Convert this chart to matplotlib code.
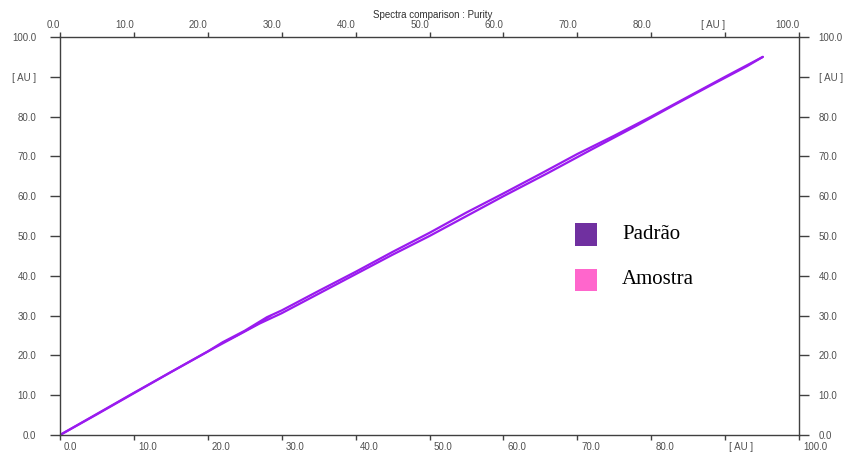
import matplotlib
matplotlib.use("Agg")
import matplotlib.pyplot as plt
import matplotlib.transforms as mtransforms
from matplotlib.patches import Rectangle

# Purity trace: reference spectrum (Padrão) vs sample spectrum (Amostra), in AU
sweep_up_x = [0, 5, 10, 15, 20, 22, 25, 28, 30, 35, 40, 45, 50, 55, 60, 65, 70, 75, 80, 85, 90, 95.1]
sweep_up_y = [0, 5.3, 10.6, 15.8, 21.0, 23.3, 26.2, 29.6, 31.3, 36.2, 41.0, 46.0, 50.8, 55.9, 60.7, 65.6, 70.6, 75.2, 80.0, 85.0, 90.0, 95.0]
sweep_down_x = [95.1, 93, 88, 83, 78, 72, 66, 60, 55, 50, 45, 40, 35, 30, 27, 25, 21, 15, 10, 5, 0]
sweep_down_y = [95.0, 92.7, 87.8, 82.8, 77.7, 71.8, 65.8, 60.0, 55.0, 50.0, 45.3, 40.4, 35.5, 30.6, 28.0, 26.0, 22.0, 15.8, 10.5, 5.2, 0]
stub_x = [21.9, 24.0, 26.5, 28.5]
stub_y = [23.1, 25.0, 27.6, 29.9]

tick_values = [0, 10, 20, 30, 40, 50, 60, 70, 80, 90, 100]
tick_labels = ["0.0", "10.0", "20.0", "30.0", "40.0", "50.0", "60.0", "70.0", "80.0", "[ AU ]", "100.0"]

legend_names = ["Padrão", "Amostra"]
legend_colors = ["#7030A0", "#FF66CC"]
trace_color = "#9A1BEF"
text_color = "#505050"

fig = plt.figure(figsize=(8.48, 4.55), dpi=100)
ax = fig.add_axes([60 / 848, 20 / 455, 739 / 848, 398 / 455])

ax.plot(sweep_up_x, sweep_up_y, color=trace_color, lw=1.6, solid_capstyle="round")
ax.plot(sweep_down_x, sweep_down_y, color=trace_color, lw=1.6, solid_capstyle="round")
ax.plot(stub_x, stub_y, color=trace_color, lw=1.2)

ax.set_xlim(0, 100)
ax.set_ylim(0, 100)

for s in ax.spines.values():
    s.set_color("#404040")
    s.set_linewidth(1.0)

ax.set_xticks(tick_values)
ax.set_xticklabels(tick_labels)
ax.set_yticks(tick_values)
ax.set_yticklabels(tick_labels)

ax.tick_params(axis="x", which="both", bottom=True, top=True, labelbottom=True, labeltop=True,
               direction="out", length=3.5, width=1, color="#404040", labelsize=7,
               labelcolor=text_color, pad=1.5)
ax.tick_params(axis="y", which="both", left=True, right=True, labelleft=True, labelright=True,
               direction="out", length=7, width=1, color="#404040", labelsize=7,
               labelcolor=text_color, pad=10)

shift_right = mtransforms.ScaledTranslation(4 / 100, 0, fig.dpi_scale_trans)
shift_left = mtransforms.ScaledTranslation(-4 / 100, 0, fig.dpi_scale_trans)
for tk in ax.xaxis.get_major_ticks():
    tk.label1.set_horizontalalignment("left")
    tk.label1.set_transform(tk.label1.get_transform() + shift_right)
    tk.label2.set_horizontalalignment("right")
for tk in ax.yaxis.get_major_ticks():
    tk.label1.set_horizontalalignment("right")
    tk.label2.set_horizontalalignment("left")
    tk.label2.set_transform(tk.label2.get_transform() + shift_left)

for tk in ax.xaxis.get_major_ticks() + ax.yaxis.get_major_ticks():
    tk.label1.set_fontfamily("Liberation Sans")
    tk.label2.set_fontfamily("Liberation Sans")

fig.text(433 / 848, 1 - 15 / 455, "Spectra comparison : Purity", ha="center", va="center",
         fontsize=7, color="#303030", family="Liberation Sans")

# Legend drawn as squares with serif labels
for i, (name, col) in enumerate(zip(legend_names, legend_colors)):
    yc = 1 - (234.5 + i * 45.5) / 455
    fig.patches.append(Rectangle((575 / 848, yc - 11 / 455), 22 / 848, 22 / 455,
                                 transform=fig.transFigure, facecolor=col, edgecolor="none"))
    fig.text(622 / 848, yc, name, ha="left", va="center", fontsize=15,
             family="Liberation Serif", color="black")

fig.savefig("out.png", dpi=100)
